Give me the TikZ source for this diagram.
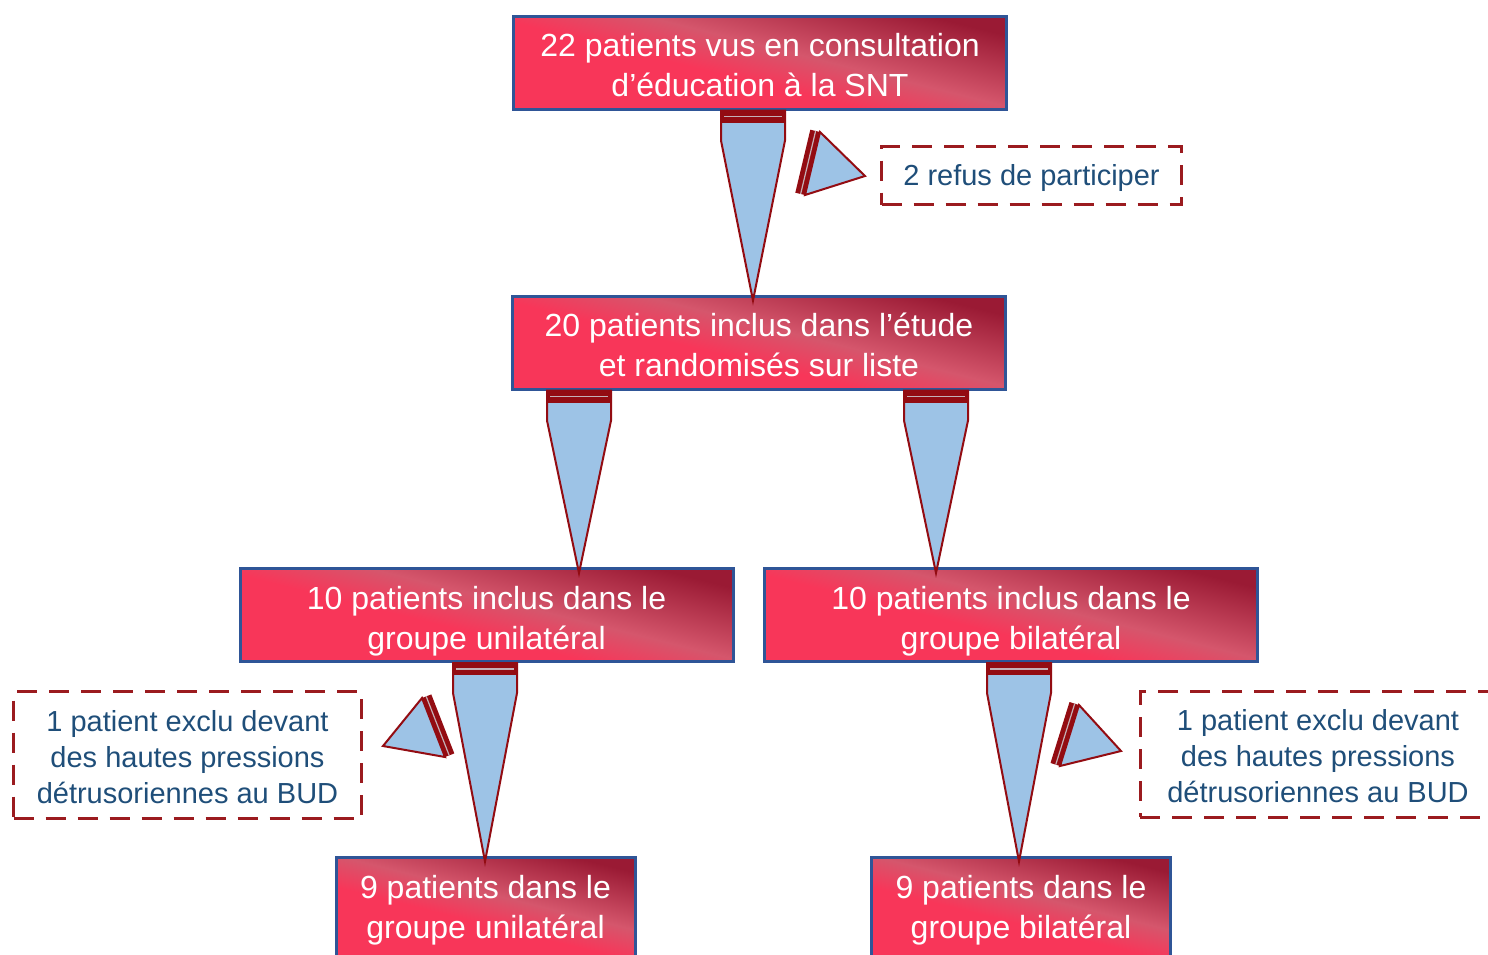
\documentclass[tikz,border=0pt]{standalone}
\usepackage{fontspec}
\setmainfont{Liberation Sans}
\usetikzlibrary{calc}

\definecolor{boxbright}{HTML}{F83659}
\definecolor{boxmid}{HTML}{D5566C}
\definecolor{boxdark}{HTML}{9A1A34}
\definecolor{boxblue}{HTML}{2F5597}
\definecolor{arrowred}{HTML}{930C12}
\definecolor{arrowblue}{HTML}{9DC3E6}
\definecolor{capgrey}{HTML}{C4B0B6}
\definecolor{notered}{HTML}{9B1B1F}
\definecolor{noteblue}{HTML}{1F4E79}

\pgfdeclarehorizontalshading{boxshade}{100bp}{color(0bp)=(boxbright); color(44bp)=(boxbright); color(55bp)=(boxmid); color(75bp)=(boxdark); color(100bp)=(boxdark)}

\newcommand\taper[3]{%
  \coordinate (t0) at (#1,0 |- #2.south);
  \coordinate (t1) at (#1,0 |- #3.north);
  \draw[tapershape] ($(t0)+(-32,0)$) -- ($(t0)+(-32,30)$) -- ($(t1)+(0,6)$) -- ($(t0)+(32,30)$) -- ($(t0)+(32,0)$) -- cycle;
  \fill[arrowred] ($(t0)+(-32,0)$) rectangle ($(t0)+(32,12)$);
  \draw[capgrey, line width=0.6pt] ($(t0)+(-29,6)$) -- ($(t0)+(29,6)$);}

\newcommand\sidetri[4]{%
  \draw[tapershape] #1 -- #2 -- #3 -- cycle;
  \fill[arrowred] #1 -- #2 -- ($#2+#4$) -- ($#1+#4$) -- cycle;
  \draw[capgrey, line width=0.6pt] ($#1+0.45*#4$) -- ($#2+0.45*#4$);}

\begin{document}
\begin{tikzpicture}[x=0.5pt, y=-0.5pt,
  box/.style={draw=boxblue, line width=1.5pt, shade, shading=boxshade, shading angle=76, text=white, align=center, inner sep=0pt, font=\fontsize{16}{20}\selectfont, text height=36pt, text depth=2pt, minimum width=246.5pt, minimum height=46.5pt},
  smallbox/.style={box, text height=34pt, text depth=3pt, minimum width=149.5pt, minimum height=50pt},
  note/.style={draw=notered, line width=1.5pt, dash pattern=on 10pt off 6pt, text=noteblue, align=center, inner sep=0pt, font=\fontsize{14.5}{18}\selectfont, text height=50pt, text depth=2pt},
  tapershape/.style={draw=arrowred, fill=arrowblue, line width=1pt, line join=miter}]
  \useasboundingbox (0,0) rectangle (1488,954);
  \clip (0,0) rectangle (1488,954);

  \node[box] (top) at (760,62.5) {22 patients vus en consultation\\d’éducation à la SNT};
  \node[box] (incl) at (759,342.5) {20 patients inclus dans l’étude\\et randomisés sur liste};
  \node[box] (unil) at (486.5,615) {10 patients inclus dans le\\groupe unilatéral};
  \node[box] (bil) at (1011,615) {10 patients inclus dans le\\groupe bilatéral};
  \node[smallbox] (unil9) at (485.5,907) {9 patients dans le\\groupe unilatéral};
  \node[smallbox] (bil9) at (1021,907) {9 patients dans le\\groupe bilatéral};

  \node[note, text height=12pt, text depth=2pt, minimum width=150pt, minimum height=29pt] (refus) at (1031.5,175.5) {2 refus de participer};
  \node[note, minimum width=174pt, minimum height=63.5pt] (exclg) at (187.5,755) {1 patient exclu devant\\des hautes pressions\\détrusoriennes au BUD};
  \node[note, minimum width=178pt, minimum height=63pt] (excld) at (1318,754) {1 patient exclu devant\\des hautes pressions\\détrusoriennes au BUD};

  \taper{753}{top}{incl}
  \taper{579}{incl}{unil}
  \taper{936}{incl}{bil}
  \taper{485}{unil}{unil9}
  \taper{1019}{bil}{bil9}

  \sidetri{(820,132)}{(805,195)}{(865,176)}{(-9.7,-2.3)}
  \sidetri{(422,698)}{(445,757)}{(383,746)}{(9.3,-3.6)}
  \sidetri{(1079,705)}{(1060,766)}{(1121,751)}{(-9.5,-3.0)}
\end{tikzpicture}
\end{document}
